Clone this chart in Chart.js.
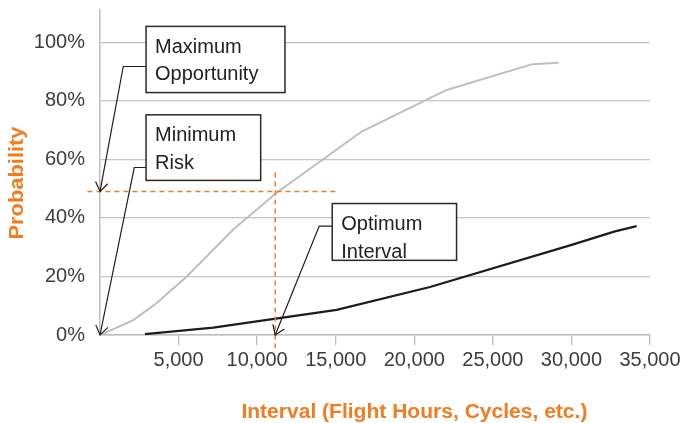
<!DOCTYPE html>
<html><head><meta charset="utf-8">
<script src="https://cdn.jsdelivr.net/npm/chart.js@4/dist/chart.umd.min.js"></script>
<style>html,body{margin:0;padding:0;background:#fff}canvas{display:block}</style>
</head><body>
<canvas id="c" width="684" height="423"></canvas>
<script>
// ---- data (x: interval, y: probability %) ----
const grayX = [0, 2120, 3610, 5520, 8480, 11240, 16650, 22060, 27510, 29190];
const grayY = [0, 5.1, 10.9, 20.0, 36.0, 48.6, 69.5, 83.7, 92.5, 93.0];
const darkX = [2860, 7210, 15060, 21000, 29910, 32770, 34150];
const darkY = [0.3, 2.5, 8.6, 16.4, 30.6, 35.4, 37.2];
const xTickValues = [5000, 10000, 15000, 20000, 25000, 30000, 35000];
const yTickValues = [0, 20, 40, 60, 80, 100];
const optimumInterval = 11150;     // vertical dashed guide
const optimumProbability = 49;     // horizontal dashed guide
const hGuideX = [-800, 15000];
const vGuideY = [55.5, -4.5];
const xTitle = 'Interval (Flight Hours, Cycles, etc.)';
const yTitle = 'Probability';
const noteLabels = [['Maximum', 'Opportunity'], ['Minimum', 'Risk'], ['Optimum', 'Interval']];
// annotation anchors in data units: box [xmin,xmax,ymin,ymax], elbow [x,y], tip [x,y]
const noteBoxes = [[2930, 11770, 82.8, 105.4], [2930, 10225, 52.8, 75.2], [14780, 22690, 25.5, 44.9]];
const noteElbows = [[1480, 91.7], [2180, 57.2], [13950, 37.2]];
const noteTips = [[0, optimumProbability], [0, 0], [optimumInterval, 0]];

const ORANGE = '#F57B1F';
const FONT = "'Liberation Sans', Arial, Helvetica, sans-serif";

const pts = (xs, ys) => xs.map((v, i) => ({x: v, y: ys[i]}));

const notesPlugin = {
  id: 'notes',
  afterDatasetsDraw(chart) {
    const {ctx, scales: {x, y}} = chart;
    ctx.save();
    noteLabels.forEach((lines, i) => {
      const b = noteBoxes[i];
      const bx0 = x.getPixelForValue(b[0]), bx1 = x.getPixelForValue(b[1]);
      const byTop = y.getPixelForValue(b[3]), byBot = y.getPixelForValue(b[2]);
      const ex = x.getPixelForValue(noteElbows[i][0]), ey = y.getPixelForValue(noteElbows[i][1]);
      const tx = x.getPixelForValue(noteTips[i][0]), ty = y.getPixelForValue(noteTips[i][1]);
      ctx.strokeStyle = '#1e1e1e';
      ctx.lineWidth = 1.2;
      ctx.beginPath();
      ctx.moveTo(bx0, ey); ctx.lineTo(ex, ey); ctx.lineTo(tx, ty);
      ctx.stroke();
      const ang = Math.atan2(ty - ey, tx - ex);
      const L = 11, a = 0.6;
      ctx.beginPath();
      ctx.moveTo(tx - L * Math.cos(ang - a), ty - L * Math.sin(ang - a));
      ctx.lineTo(tx, ty);
      ctx.lineTo(tx - L * Math.cos(ang + a), ty - L * Math.sin(ang + a));
      ctx.stroke();
      ctx.fillStyle = '#fff';
      ctx.fillRect(bx0, byTop, bx1 - bx0, byBot - byTop);
      ctx.strokeStyle = '#2a2a2a';
      ctx.lineWidth = 1.5;
      ctx.strokeRect(bx0, byTop, bx1 - bx0, byBot - byTop);
      ctx.fillStyle = '#222';
      ctx.font = '20px ' + FONT;
      ctx.textAlign = 'left';
      ctx.textBaseline = 'alphabetic';
      lines.forEach((t, k) => ctx.fillText(t, bx0 + 9, byTop + 26.6 + k * 27.5));
    });
    ctx.restore();
  },
  afterDraw(chart) {
    const {ctx} = chart;
    ctx.save();
    ctx.fillStyle = ORANGE;
    ctx.font = 'bold 20px ' + FONT;
    ctx.textBaseline = 'alphabetic';
    ctx.textAlign = 'center';
    let w = ctx.measureText(xTitle).width;
    ctx.save();
    ctx.translate(414.4, 417.5);
    ctx.scale(346 / w, 1);
    ctx.fillText(xTitle, 0, 0);
    ctx.restore();
    w = ctx.measureText(yTitle).width;
    ctx.save();
    ctx.translate(22.5, 183);
    ctx.rotate(-Math.PI / 2);
    ctx.scale(113 / w, 1);
    ctx.fillText(yTitle, 0, 0);
    ctx.restore();
    ctx.restore();
  }
};

new Chart(document.getElementById('c'), {
  type: 'line',
  data: {
    datasets: [
      {data: pts(hGuideX, [optimumProbability, optimumProbability]), borderColor: ORANGE, borderWidth: 1.5,
       borderDash: [5, 4], pointRadius: 0, clip: false, order: 0},
      {data: pts([optimumInterval, optimumInterval], vGuideY), borderColor: ORANGE, borderWidth: 1.5,
       borderDash: [5, 4], pointRadius: 0, clip: false, order: 0},
      {data: pts(darkX, darkY), borderColor: '#1c1c1c', borderWidth: 2.2, pointRadius: 0, order: 1},
      {data: pts(grayX, grayY), borderColor: '#bcbec1', borderWidth: 2, pointRadius: 0, order: 2}
    ]
  },
  options: {
    responsive: false,
    animation: false,
    layout: {padding: {top: 10, right: 34, left: 0, bottom: 0}},
    plugins: {legend: {display: false}, tooltip: {enabled: false}},
    elements: {line: {tension: 0}},
    scales: {
      x: {
        type: 'linear', min: 0, max: 35000,
        afterBuildTicks: s => { s.ticks = xTickValues.map(v => ({value: v})); },
        afterFit: s => { s.height = 88; s.paddingLeft = 0; s.paddingRight = 0; },
        grid: {drawOnChartArea: false, drawTicks: true, tickLength: 10, color: '#bdbdbd', lineWidth: 1.3},
        border: {color: '#bdbdbd', width: 1.5},
        ticks: {padding: 3, color: '#3c3c3c', font: {family: FONT, size: 20},
                maxRotation: 0, autoSkip: false,
                callback: v => v.toLocaleString('en-US')}
      },
      y: {
        type: 'linear', min: 0, max: 111,
        afterBuildTicks: s => { s.ticks = yTickValues.map(v => ({value: v})); },
        afterFit: s => { s.width = 100; s.paddingTop = 0; s.paddingBottom = 0; },
        grid: {drawTicks: false, color: '#c3c3c3', lineWidth: 1.3},
        border: {color: '#bdbdbd', width: 1.5},
        ticks: {padding: 15, color: '#3c3c3c', font: {family: FONT, size: 20},
                callback: v => v + '%'}
      }
    }
  },
  plugins: [notesPlugin]
});
</script>
</body></html>
